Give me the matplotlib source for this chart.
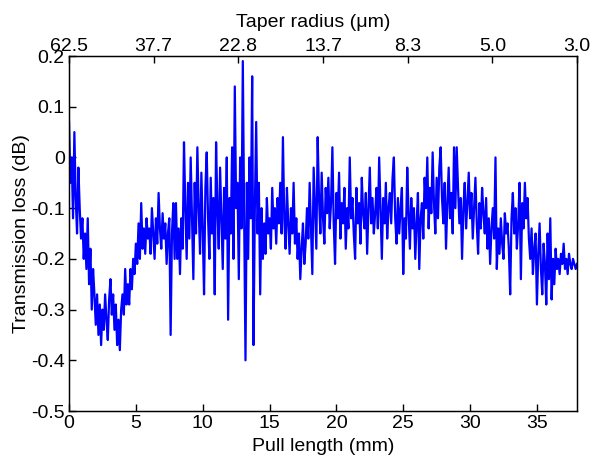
import numpy as np
import matplotlib
matplotlib.use("Agg")
import matplotlib.pyplot as plt

plt.rcParams['font.family'] = ['Liberation Sans', 'DejaVu Sans']

loss_db = [
    0.07, -0.05, 0.00, -0.12, 0.05, -0.08, -0.15, -0.02, -0.10, -0.16,
    -0.12, -0.20, -0.15, -0.22, -0.12, -0.25, -0.18, -0.30, -0.22, -0.27,
    -0.33, -0.27, -0.35, -0.29, -0.37, -0.30, -0.34, -0.27, -0.32, -0.36,
    -0.28, -0.24, -0.31, -0.27, -0.34, -0.29, -0.37, -0.32, -0.38, -0.30,
    -0.27, -0.31, -0.22, -0.29, -0.25, -0.29, -0.22, -0.26, -0.20, -0.23,
    -0.17, -0.21, -0.13, -0.20, -0.09, -0.18, -0.14, -0.19, -0.12, -0.16,
    -0.14, -0.19, -0.10, -0.15, -0.20, -0.12, -0.17, -0.07, -0.14, -0.18,
    -0.11, -0.16, -0.13, -0.21, -0.15, -0.12, -0.35, -0.15, -0.09, -0.20,
    -0.09, -0.20, -0.14, -0.23, -0.12, -0.18, 0.03, -0.10, -0.20, -0.05,
    -0.16, 0.00, -0.12, -0.24, -0.05, -0.15, 0.02, -0.10, -0.19, -0.03,
    -0.14, -0.27, -0.06, 0.01, -0.12, -0.20, -0.04, -0.15, -0.08, -0.27,
    0.03, -0.10, -0.18, -0.02, -0.12, -0.22, -0.06, -0.16, 0.00, -0.32,
    -0.08, -0.15, 0.02, -0.20, 0.14, -0.10, -0.05, -0.24, 0.00, -0.14,
    0.19, -0.12, -0.40, -0.05, -0.20, 0.00, -0.12, 0.16, -0.37, -0.10,
    0.07, -0.15, -0.05, -0.27, -0.10, -0.20, -0.13, -0.19, -0.08, -0.15,
    -0.12, -0.18, -0.06, -0.14, -0.10, -0.17, -0.08, -0.13, -0.05, -0.15,
    0.04, -0.12, -0.18, -0.06, -0.13, -0.19, -0.10, -0.15, -0.05, -0.17,
    -0.12, -0.20, -0.15, -0.24, -0.18, -0.13, -0.21, -0.17, -0.10, -0.16,
    -0.05, -0.14, -0.23, -0.02, -0.10, -0.18, 0.04, -0.08, -0.15, -0.03,
    -0.12, -0.17, -0.06, -0.11, -0.04, -0.14, -0.09, 0.02, -0.13, -0.21,
    -0.07, -0.12, -0.03, -0.16, -0.09, -0.13, -0.06, -0.18, -0.10, -0.14,
    0.00, -0.12, -0.08, -0.15, -0.20, -0.06, -0.13, -0.09, -0.17, -0.04,
    -0.11, -0.14, -0.07, -0.19, -0.10, -0.02, -0.13, -0.08, -0.15, -0.11,
    -0.06, -0.14, 0.00, -0.10, -0.20, -0.08, -0.13, -0.05, -0.16, -0.10,
    -0.07, -0.13, -0.04, 0.00, -0.12, -0.17, -0.08, -0.15, -0.10, -0.06,
    -0.23, -0.12, -0.16, -0.02, -0.11, -0.18, -0.08, -0.14, -0.10, -0.20,
    -0.13, -0.07, -0.22, -0.12, -0.09, -0.16, -0.04, -0.10, 0.00, -0.14,
    -0.06, -0.11, 0.01, -0.09, -0.15, -0.04, -0.12, -0.02, 0.02, -0.08,
    -0.13, -0.05, -0.18, -0.09, -0.02, -0.12, -0.07, -0.15, 0.02, -0.10,
    0.02, -0.06, -0.13, -0.08, -0.20, -0.10, -0.05, -0.14, -0.09, -0.03,
    -0.12, -0.07, -0.16, -0.10, -0.04, -0.13, -0.19, -0.09, -0.14, -0.06,
    -0.11, -0.15, -0.08, -0.18, -0.12, -0.21, -0.14, -0.10, -0.16, 0.00,
    -0.22, -0.14, -0.19, -0.12, -0.17, -0.20, -0.11, -0.15, -0.13, -0.18,
    -0.27, -0.12, -0.07, -0.15, -0.10, -0.18, -0.13, -0.05, -0.24, -0.09,
    -0.14, -0.05, -0.12, -0.08, -0.16, -0.20, -0.14, -0.23, -0.18, -0.15,
    -0.29, -0.19, -0.13, -0.22, -0.27, -0.17, -0.21, -0.29, -0.15, -0.24,
    -0.12, -0.28, -0.20, -0.25, -0.18, -0.22, -0.20, -0.23, -0.19, -0.21,
    -0.17, -0.22, -0.20, -0.23, -0.19, -0.21, -0.22, -0.20, -0.21, -0.22,
    -0.21,
]
pull_max = 38.0
pull_mm = np.linspace(0, pull_max, len(loss_db))

x_ticks = [0, 5, 10, 15, 20, 25, 30, 35]
y_ticks = [-0.5, -0.4, -0.3, -0.2, -0.1, 0, 0.1, 0.2]
y_ticklabels = ['-0.5', '-0.4', '-0.3', '-0.2', '-0.1', '0', '0.1', '0.2']
radius_labels = ['62.5', '37.7', '22.8', '13.7', '8.3', '5.0', '3.0']

fig = plt.figure(figsize=(5.92, 4.58), dpi=100)
ax = fig.add_axes([0.1166, 0.1026, 0.8581, 0.7751])

ax.plot(pull_mm, loss_db, color='#0000FF', linewidth=1.6)

ax.set_xlim(0, pull_max)
ax.set_ylim(-0.5, 0.2)
ax.set_xticks(x_ticks)
ax.set_yticks(y_ticks)
ax.set_yticklabels(y_ticklabels)
ax.tick_params(direction='in', length=5, width=1, labelsize=14, pad=3,
               top=False, right=False)
ax.set_xlabel('Pull length (mm)', fontsize=14, labelpad=4)
ax.set_ylabel('Transmission loss (dB)', fontsize=14, labelpad=1)
for spine in ax.spines.values():
    spine.set_linewidth(1)

# top axis: taper radius, evenly spaced over the pull range
ax2 = ax.twiny()
ax2.set_xlim(0, pull_max)
ax2.set_xticks(np.linspace(0, pull_max, len(radius_labels)))
ax2.set_xticklabels(radius_labels)
ax2.tick_params(direction='in', length=5, width=1, labelsize=14, pad=1)
ax2.set_xlabel('Taper radius (\u03bcm)', fontsize=14)
ax2.xaxis.set_label_coords(0.48, 1.082)

fig.savefig('out.png', dpi=100, facecolor='white')
